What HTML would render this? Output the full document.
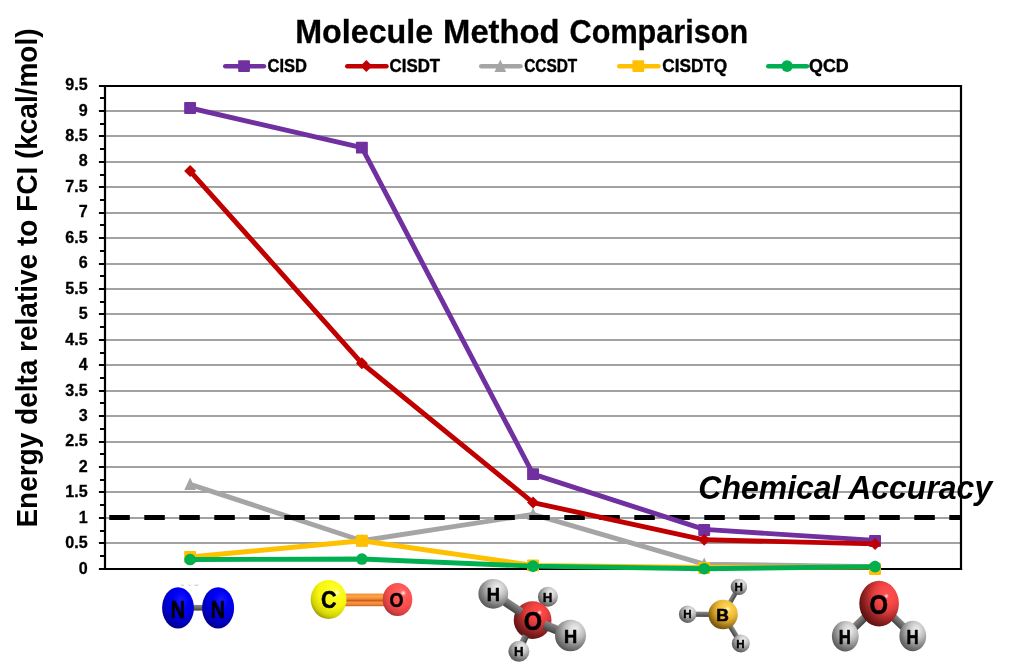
<!DOCTYPE html>
<html lang="en"><head><meta charset="utf-8"><title>Molecule Method Comparison</title>
<style>
html,body{margin:0;padding:0;background:#fff;}
body{width:1014px;height:664px;overflow:hidden;}
svg{display:block;}
text{font-family:"Liberation Sans",sans-serif;font-weight:bold;fill:#000;}
</style></head><body>
<svg width="1014" height="664" viewBox="0 0 1014 664">
<defs>
<radialGradient id="gN" cx="0.6" cy="0.32" r="0.78"><stop offset="0" stop-color="#1a1aff"/><stop offset="0.3" stop-color="#0000f6"/><stop offset="0.5" stop-color="#0000e2"/><stop offset="0.75" stop-color="#0000b0"/><stop offset="0.9" stop-color="#000088"/><stop offset="1" stop-color="#00006c"/></radialGradient>
<radialGradient id="gC" cx="0.64" cy="0.3" r="0.78"><stop offset="0" stop-color="#ffff40"/><stop offset="0.3" stop-color="#fbfb18"/><stop offset="0.55" stop-color="#f5f510"/><stop offset="0.8" stop-color="#d4d408"/><stop offset="0.92" stop-color="#aaaa04"/><stop offset="1" stop-color="#8c8c00"/></radialGradient>
<radialGradient id="gO" cx="0.64" cy="0.3" r="0.78"><stop offset="0" stop-color="#ff5050"/><stop offset="0.22" stop-color="#f84646"/><stop offset="0.42" stop-color="#dc3a3a"/><stop offset="0.6" stop-color="#aa2929"/><stop offset="0.76" stop-color="#7e1d1d"/><stop offset="0.9" stop-color="#621414"/><stop offset="1" stop-color="#500f0f"/></radialGradient>
<radialGradient id="gO2" cx="0.64" cy="0.3" r="0.78"><stop offset="0" stop-color="#ff6a6a"/><stop offset="0.3" stop-color="#ff5656"/><stop offset="0.55" stop-color="#f84e4e"/><stop offset="0.8" stop-color="#d84040"/><stop offset="0.92" stop-color="#b43434"/><stop offset="1" stop-color="#9a2c2c"/></radialGradient>
<radialGradient id="gH" cx="0.64" cy="0.3" r="0.78"><stop offset="0" stop-color="#f0f0f0"/><stop offset="0.2" stop-color="#dadada"/><stop offset="0.4" stop-color="#bebebe"/><stop offset="0.58" stop-color="#9a9a9a"/><stop offset="0.75" stop-color="#787878"/><stop offset="0.9" stop-color="#5e5e5e"/><stop offset="1" stop-color="#4e4e4e"/></radialGradient>
<radialGradient id="gB" cx="0.64" cy="0.3" r="0.78"><stop offset="0" stop-color="#ffe060"/><stop offset="0.25" stop-color="#f8c844"/><stop offset="0.45" stop-color="#eab636"/><stop offset="0.65" stop-color="#c09024"/><stop offset="0.82" stop-color="#8c6812"/><stop offset="1" stop-color="#644a0a"/></radialGradient>
<radialGradient id="gO3" cx="0.7" cy="0.32" r="0.8"><stop offset="0" stop-color="#ff5252"/><stop offset="0.25" stop-color="#fa4848"/><stop offset="0.42" stop-color="#e43e3e"/><stop offset="0.58" stop-color="#b82e2e"/><stop offset="0.74" stop-color="#8a2020"/><stop offset="0.88" stop-color="#681515"/><stop offset="1" stop-color="#521010"/></radialGradient>
<radialGradient id="gSpec" cx="0.5" cy="0.5" r="0.5"><stop offset="0" stop-color="#ffffff" stop-opacity="1"/><stop offset="0.4" stop-color="#ffffff" stop-opacity="0.6"/><stop offset="1" stop-color="#ffffff" stop-opacity="0"/></radialGradient>
<linearGradient id="gBond" x1="0" y1="0" x2="0" y2="1"><stop offset="0" stop-color="#8c8c8c"/><stop offset="0.3" stop-color="#767676"/><stop offset="0.7" stop-color="#5a5a5a"/><stop offset="1" stop-color="#404040"/></linearGradient>
<linearGradient id="gCO" x1="0" y1="0" x2="0" y2="1"><stop offset="0" stop-color="#ee8430"/><stop offset="0.2" stop-color="#ffa84c"/><stop offset="0.42" stop-color="#f08a34"/><stop offset="0.56" stop-color="#c45c1a"/><stop offset="0.68" stop-color="#f89444"/><stop offset="0.85" stop-color="#f08838"/><stop offset="1" stop-color="#c45c1c"/></linearGradient>
</defs>
<rect width="1014" height="664" fill="#fff"/>
<text y="42.6" font-size="32.6" stroke="#000" stroke-width="0.3"><tspan x="295.2" textLength="138" lengthAdjust="spacingAndGlyphs">Molecule</tspan> <tspan x="443.1" textLength="116.5" lengthAdjust="spacingAndGlyphs">Method</tspan> <tspan x="569.6" textLength="178.5" lengthAdjust="spacingAndGlyphs">Comparison</tspan></text>
<line x1="225.3" y1="66.3" x2="263.9" y2="66.3" stroke="#7030A0" stroke-width="4.6" stroke-linecap="round"/>
<rect x="238.15" y="60.20" width="11.8" height="11.8" rx="0.9" fill="#7030A0"/>
<text x="267.6" y="72.0" font-size="19.2" stroke="#000" stroke-width="0.45" textLength="39.4" lengthAdjust="spacingAndGlyphs">CISD</text>
<line x1="347.3" y1="66.3" x2="386.4" y2="66.3" stroke="#C00000" stroke-width="4.6" stroke-linecap="round"/>
<path d="M360.30 66.10L366.30 60.10L372.30 66.10L366.30 72.10Z" fill="#C00000"/>
<text x="389.6" y="72.0" font-size="19.2" stroke="#000" stroke-width="0.45" textLength="50.5" lengthAdjust="spacingAndGlyphs">CISDT</text>
<line x1="481.3" y1="66.3" x2="520.4" y2="66.3" stroke="#A5A5A5" stroke-width="4.6" stroke-linecap="round"/>
<path d="M494.50 71.90L500.30 59.40L506.10 71.90Z" fill="#A5A5A5"/>
<text x="524.2" y="72.0" font-size="19.2" stroke="#000" stroke-width="0.45" textLength="53.1" lengthAdjust="spacingAndGlyphs">CCSDT</text>
<line x1="619.3" y1="66.3" x2="658.4" y2="66.3" stroke="#FFC000" stroke-width="4.6" stroke-linecap="round"/>
<rect x="632.40" y="60.20" width="11.8" height="11.8" rx="0.9" fill="#FFC000"/>
<text x="662.3" y="72.0" font-size="19.2" stroke="#000" stroke-width="0.45" textLength="64.9" lengthAdjust="spacingAndGlyphs">CISDTQ</text>
<line x1="768.3" y1="66.3" x2="806.9" y2="66.3" stroke="#00B050" stroke-width="4.6" stroke-linecap="round"/>
<circle cx="787.05" cy="66.10" r="5.8" fill="#00B050"/>
<text x="809.0" y="72.0" font-size="19.2" stroke="#000" stroke-width="0.45" textLength="39.7" lengthAdjust="spacingAndGlyphs">QCD</text>
<line x1="105.0" y1="543.00" x2="961.0" y2="543.00" stroke="#a2a2a2" stroke-width="2"/>
<line x1="105.0" y1="518.00" x2="961.0" y2="518.00" stroke="#a2a2a2" stroke-width="2"/>
<line x1="105.0" y1="492.00" x2="961.0" y2="492.00" stroke="#a2a2a2" stroke-width="2"/>
<line x1="105.0" y1="467.00" x2="961.0" y2="467.00" stroke="#a2a2a2" stroke-width="2"/>
<line x1="105.0" y1="442.00" x2="961.0" y2="442.00" stroke="#a2a2a2" stroke-width="2"/>
<line x1="105.0" y1="416.00" x2="961.0" y2="416.00" stroke="#a2a2a2" stroke-width="2"/>
<line x1="105.0" y1="391.00" x2="961.0" y2="391.00" stroke="#a2a2a2" stroke-width="2"/>
<line x1="105.0" y1="365.00" x2="961.0" y2="365.00" stroke="#a2a2a2" stroke-width="2"/>
<line x1="105.0" y1="340.00" x2="961.0" y2="340.00" stroke="#a2a2a2" stroke-width="2"/>
<line x1="105.0" y1="314.00" x2="961.0" y2="314.00" stroke="#a2a2a2" stroke-width="2"/>
<line x1="105.0" y1="289.00" x2="961.0" y2="289.00" stroke="#a2a2a2" stroke-width="2"/>
<line x1="105.0" y1="264.00" x2="961.0" y2="264.00" stroke="#a2a2a2" stroke-width="2"/>
<line x1="105.0" y1="238.00" x2="961.0" y2="238.00" stroke="#a2a2a2" stroke-width="2"/>
<line x1="105.0" y1="213.00" x2="961.0" y2="213.00" stroke="#a2a2a2" stroke-width="2"/>
<line x1="105.0" y1="187.00" x2="961.0" y2="187.00" stroke="#a2a2a2" stroke-width="2"/>
<line x1="105.0" y1="162.00" x2="961.0" y2="162.00" stroke="#a2a2a2" stroke-width="2"/>
<line x1="105.0" y1="136.00" x2="961.0" y2="136.00" stroke="#a2a2a2" stroke-width="2"/>
<line x1="105.0" y1="111.00" x2="961.0" y2="111.00" stroke="#a2a2a2" stroke-width="2"/>
<line x1="98.9" y1="569.00" x2="105.0" y2="569.00" stroke="#000" stroke-width="2"/>
<line x1="98.9" y1="543.00" x2="105.0" y2="543.00" stroke="#000" stroke-width="2"/>
<line x1="98.9" y1="518.00" x2="105.0" y2="518.00" stroke="#000" stroke-width="2"/>
<line x1="98.9" y1="492.00" x2="105.0" y2="492.00" stroke="#000" stroke-width="2"/>
<line x1="98.9" y1="467.00" x2="105.0" y2="467.00" stroke="#000" stroke-width="2"/>
<line x1="98.9" y1="442.00" x2="105.0" y2="442.00" stroke="#000" stroke-width="2"/>
<line x1="98.9" y1="416.00" x2="105.0" y2="416.00" stroke="#000" stroke-width="2"/>
<line x1="98.9" y1="391.00" x2="105.0" y2="391.00" stroke="#000" stroke-width="2"/>
<line x1="98.9" y1="365.00" x2="105.0" y2="365.00" stroke="#000" stroke-width="2"/>
<line x1="98.9" y1="340.00" x2="105.0" y2="340.00" stroke="#000" stroke-width="2"/>
<line x1="98.9" y1="314.00" x2="105.0" y2="314.00" stroke="#000" stroke-width="2"/>
<line x1="98.9" y1="289.00" x2="105.0" y2="289.00" stroke="#000" stroke-width="2"/>
<line x1="98.9" y1="264.00" x2="105.0" y2="264.00" stroke="#000" stroke-width="2"/>
<line x1="98.9" y1="238.00" x2="105.0" y2="238.00" stroke="#000" stroke-width="2"/>
<line x1="98.9" y1="213.00" x2="105.0" y2="213.00" stroke="#000" stroke-width="2"/>
<line x1="98.9" y1="187.00" x2="105.0" y2="187.00" stroke="#000" stroke-width="2"/>
<line x1="98.9" y1="162.00" x2="105.0" y2="162.00" stroke="#000" stroke-width="2"/>
<line x1="98.9" y1="136.00" x2="105.0" y2="136.00" stroke="#000" stroke-width="2"/>
<line x1="98.9" y1="111.00" x2="105.0" y2="111.00" stroke="#000" stroke-width="2"/>
<line x1="98.9" y1="86.00" x2="105.0" y2="86.00" stroke="#000" stroke-width="2"/>
<line x1="100" y1="556.00" x2="105.0" y2="556.00" stroke="#000" stroke-width="2"/>
<line x1="100" y1="531.00" x2="105.0" y2="531.00" stroke="#000" stroke-width="2"/>
<line x1="100" y1="505.00" x2="105.0" y2="505.00" stroke="#000" stroke-width="2"/>
<line x1="100" y1="480.00" x2="105.0" y2="480.00" stroke="#000" stroke-width="2"/>
<line x1="100" y1="454.00" x2="105.0" y2="454.00" stroke="#000" stroke-width="2"/>
<line x1="100" y1="429.00" x2="105.0" y2="429.00" stroke="#000" stroke-width="2"/>
<line x1="100" y1="403.00" x2="105.0" y2="403.00" stroke="#000" stroke-width="2"/>
<line x1="100" y1="378.00" x2="105.0" y2="378.00" stroke="#000" stroke-width="2"/>
<line x1="100" y1="353.00" x2="105.0" y2="353.00" stroke="#000" stroke-width="2"/>
<line x1="100" y1="327.00" x2="105.0" y2="327.00" stroke="#000" stroke-width="2"/>
<line x1="100" y1="302.00" x2="105.0" y2="302.00" stroke="#000" stroke-width="2"/>
<line x1="100" y1="276.00" x2="105.0" y2="276.00" stroke="#000" stroke-width="2"/>
<line x1="100" y1="251.00" x2="105.0" y2="251.00" stroke="#000" stroke-width="2"/>
<line x1="100" y1="225.00" x2="105.0" y2="225.00" stroke="#000" stroke-width="2"/>
<line x1="100" y1="200.00" x2="105.0" y2="200.00" stroke="#000" stroke-width="2"/>
<line x1="100" y1="175.00" x2="105.0" y2="175.00" stroke="#000" stroke-width="2"/>
<line x1="100" y1="149.00" x2="105.0" y2="149.00" stroke="#000" stroke-width="2"/>
<line x1="100" y1="124.00" x2="105.0" y2="124.00" stroke="#000" stroke-width="2"/>
<line x1="100" y1="98.00" x2="105.0" y2="98.00" stroke="#000" stroke-width="2"/>
<text transform="translate(87.7,573.75) scale(1.0,1)" font-size="16.1" stroke="#000" stroke-width="0.3" text-anchor="end">0</text>
<text transform="translate(87.7,548.29) scale(1.0,1)" font-size="16.1" stroke="#000" stroke-width="0.3" text-anchor="end">0.5</text>
<text transform="translate(87.7,522.84) scale(1.0,1)" font-size="16.1" stroke="#000" stroke-width="0.3" text-anchor="end">1</text>
<text transform="translate(87.7,497.38) scale(1.0,1)" font-size="16.1" stroke="#000" stroke-width="0.3" text-anchor="end">1.5</text>
<text transform="translate(87.7,471.93) scale(1.0,1)" font-size="16.1" stroke="#000" stroke-width="0.3" text-anchor="end">2</text>
<text transform="translate(87.7,446.47) scale(1.0,1)" font-size="16.1" stroke="#000" stroke-width="0.3" text-anchor="end">2.5</text>
<text transform="translate(87.7,421.02) scale(1.0,1)" font-size="16.1" stroke="#000" stroke-width="0.3" text-anchor="end">3</text>
<text transform="translate(87.7,395.56) scale(1.0,1)" font-size="16.1" stroke="#000" stroke-width="0.3" text-anchor="end">3.5</text>
<text transform="translate(87.7,370.11) scale(1.0,1)" font-size="16.1" stroke="#000" stroke-width="0.3" text-anchor="end">4</text>
<text transform="translate(87.7,344.65) scale(1.0,1)" font-size="16.1" stroke="#000" stroke-width="0.3" text-anchor="end">4.5</text>
<text transform="translate(87.7,319.20) scale(1.0,1)" font-size="16.1" stroke="#000" stroke-width="0.3" text-anchor="end">5</text>
<text transform="translate(87.7,293.74) scale(1.0,1)" font-size="16.1" stroke="#000" stroke-width="0.3" text-anchor="end">5.5</text>
<text transform="translate(87.7,268.29) scale(1.0,1)" font-size="16.1" stroke="#000" stroke-width="0.3" text-anchor="end">6</text>
<text transform="translate(87.7,242.83) scale(1.0,1)" font-size="16.1" stroke="#000" stroke-width="0.3" text-anchor="end">6.5</text>
<text transform="translate(87.7,217.38) scale(1.0,1)" font-size="16.1" stroke="#000" stroke-width="0.3" text-anchor="end">7</text>
<text transform="translate(87.7,191.92) scale(1.0,1)" font-size="16.1" stroke="#000" stroke-width="0.3" text-anchor="end">7.5</text>
<text transform="translate(87.7,166.47) scale(1.0,1)" font-size="16.1" stroke="#000" stroke-width="0.3" text-anchor="end">8</text>
<text transform="translate(87.7,141.01) scale(1.0,1)" font-size="16.1" stroke="#000" stroke-width="0.3" text-anchor="end">8.5</text>
<text transform="translate(87.7,115.56) scale(1.0,1)" font-size="16.1" stroke="#000" stroke-width="0.3" text-anchor="end">9</text>
<text transform="translate(87.7,90.10) scale(1.0,1)" font-size="16.1" stroke="#000" stroke-width="0.3" text-anchor="end">9.5</text>
<polyline points="190.10,484.30 361.90,540.74 533.05,514.30 704.20,564.13 875.05,566.67" fill="none" stroke="#A5A5A5" stroke-width="4.9" stroke-linejoin="round" stroke-linecap="round"/>
<path d="M184.30 490.10L190.10 477.60L195.90 490.10Z" fill="#A5A5A5"/>
<path d="M356.10 546.54L361.90 534.04L367.70 546.54Z" fill="#A5A5A5"/>
<path d="M527.25 520.10L533.05 507.60L538.85 520.10Z" fill="#A5A5A5"/>
<path d="M698.40 569.93L704.20 557.43L710.00 569.93Z" fill="#A5A5A5"/>
<path d="M869.25 572.47L875.05 559.97L880.85 572.47Z" fill="#A5A5A5"/>
<line x1="109.3" y1="517.5" x2="961.0" y2="517.5" stroke="#000" stroke-width="5" stroke-dasharray="20.5 14.5"/>
<path d="M105.0 569.0V86.00H961.0V569.0" fill="none" stroke="#000" stroke-width="2.2" stroke-linecap="square"/>
<line x1="103.9" y1="569.0" x2="962.1" y2="569.0" stroke="#000" stroke-width="2"/>
<polyline points="190.10,108.01 361.90,147.67 533.05,474.13 704.20,529.40 875.05,540.33" fill="none" stroke="#7030A0" stroke-width="4.9" stroke-linejoin="round" stroke-linecap="round"/>
<rect x="184.15" y="102.06" width="11.9" height="11.9" rx="0.9" fill="#7030A0"/>
<rect x="355.95" y="141.72" width="11.9" height="11.9" rx="0.9" fill="#7030A0"/>
<rect x="527.10" y="468.18" width="11.9" height="11.9" rx="0.9" fill="#7030A0"/>
<rect x="698.25" y="524.10" width="11.9" height="11.9" rx="0.9" fill="#7030A0"/>
<rect x="869.10" y="535.08" width="11.9" height="11.9" rx="0.9" fill="#7030A0"/>
<polyline points="190.10,171.06 361.90,363.27 533.05,502.60 704.20,539.77 875.05,543.89" fill="none" stroke="#C00000" stroke-width="4.9" stroke-linejoin="round" stroke-linecap="round"/>
<path d="M184.10 171.06L190.10 165.06L196.10 171.06L190.10 177.06Z" fill="#C00000"/>
<path d="M355.90 363.27L361.90 357.27L367.90 363.27L361.90 369.27Z" fill="#C00000"/>
<path d="M527.05 502.60L533.05 496.60L539.05 502.60L533.05 508.60Z" fill="#C00000"/>
<path d="M698.20 539.77L704.20 533.77L710.20 539.77L704.20 545.77Z" fill="#C00000"/>
<path d="M869.05 543.89L875.05 537.89L881.05 543.89L875.05 549.89Z" fill="#C00000"/>
<polyline points="190.10,557.01 361.90,540.74 533.05,565.40 704.20,567.44 875.05,567.08" fill="none" stroke="#FFC000" stroke-width="4.9" stroke-linejoin="round" stroke-linecap="round"/>
<rect x="184.15" y="551.06" width="11.9" height="11.9" rx="0.9" fill="#FFC000"/>
<rect x="355.95" y="534.79" width="11.9" height="11.9" rx="0.9" fill="#FFC000"/>
<rect x="527.10" y="559.45" width="11.9" height="11.9" rx="0.9" fill="#FFC000"/>
<rect x="698.25" y="561.99" width="11.9" height="11.9" rx="0.9" fill="#FFC000"/>
<rect x="869.10" y="563.03" width="11.9" height="11.9" rx="0.9" fill="#FFC000"/>
<polyline points="190.10,559.56 361.90,559.05 533.05,566.17 704.20,568.71 875.05,566.67" fill="none" stroke="#00B050" stroke-width="4.9" stroke-linejoin="round" stroke-linecap="round"/>
<circle cx="190.10" cy="559.56" r="5.8" fill="#00B050"/>
<circle cx="361.90" cy="559.05" r="5.8" fill="#00B050"/>
<circle cx="533.05" cy="566.17" r="5.8" fill="#00B050"/>
<circle cx="704.20" cy="568.71" r="5.8" fill="#00B050"/>
<circle cx="875.05" cy="566.67" r="5.8" fill="#00B050"/>
<text transform="translate(698.3,498.8) scale(1,1.04)" font-size="32" font-style="italic">Chemical Accuracy</text>
<text transform="translate(37.4,527.6) rotate(-90) scale(1,1.04)" font-size="28">Energy delta relative to FCI (kcal/mol)</text>
<line x1="181" y1="585.2" x2="184" y2="585.2" stroke="#808080" stroke-width="0.45"/>
<line x1="188.5" y1="585.2" x2="190.5" y2="585.2" stroke="#808080" stroke-width="0.45"/>
<line x1="194.4" y1="585.2" x2="198.3" y2="585.2" stroke="#808080" stroke-width="0.45"/>
<rect x="190" y="604.9" width="16" height="5.7" fill="url(#gBond)"/>
<ellipse cx="178" cy="607.9" rx="15.9" ry="20.7" fill="url(#gN)"/><text transform="translate(177.80,617.58) scale(0.82,1)" font-size="24" text-anchor="middle" stroke="#000" stroke-width="0.7" stroke-linejoin="round">N</text>
<ellipse cx="218.1" cy="607.9" rx="16" ry="20.7" fill="url(#gN)"/><text transform="translate(217.80,617.58) scale(0.82,1)" font-size="24" text-anchor="middle" stroke="#000" stroke-width="0.7" stroke-linejoin="round">N</text>
<rect x="340" y="593.6" width="48" height="12.6" fill="url(#gCO)"/>
<ellipse cx="328.6" cy="599.4" rx="17.9" ry="19.5" fill="url(#gC)"/><circle cx="337.0" cy="592.6" r="3.2" fill="url(#gSpec)" opacity="0.9"/><text transform="translate(328.90,608.28) scale(0.9,1)" font-size="24" text-anchor="middle" stroke="#000" stroke-width="0.5" stroke-linejoin="round">C</text>
<ellipse cx="397.5" cy="599.5" rx="14.8" ry="16.5" fill="url(#gO2)"/><circle cx="403.3" cy="593.0" r="3.0" fill="url(#gSpec)" opacity="0.85"/><text transform="translate(396.50,606.71) scale(0.92,1)" font-size="19.5" text-anchor="middle" stroke="#000" stroke-width="0.5" stroke-linejoin="round">O</text>
<ellipse cx="547.9" cy="596.8" rx="10" ry="10" fill="url(#gH)"/><text transform="translate(547.60,601.64) scale(1,1)" font-size="13.3" text-anchor="middle" stroke="#000" stroke-width="0.4" stroke-linejoin="round">H</text>
<ellipse cx="532.6" cy="620.1" rx="18.9" ry="18.9" fill="url(#gO)"/><circle cx="539.6" cy="612.6" r="2.6" fill="url(#gSpec)" opacity="0.8"/><text transform="translate(532.90,629.53) scale(0.94,1)" font-size="25" text-anchor="middle" stroke="#000" stroke-width="0.6" stroke-linejoin="round">O</text>
<rect x="0" y="-4.30" width="33.29" height="8.6" fill="url(#gBond)" transform="translate(493.3,593.8) rotate(33.79)"/>
<rect x="0" y="-4.50" width="28.41" height="9.0" fill="url(#gBond)" transform="translate(544.1804992258568,624.8055326669709) rotate(22.11)"/>
<rect x="0" y="-3.30" width="17.08" height="6.6" fill="url(#gBond)" transform="translate(518.9,651.3) rotate(-66.29)"/>
<ellipse cx="493.3" cy="593.8" rx="14.9" ry="14.9" fill="url(#gH)"/><text transform="translate(493.30,601.09) scale(1,1)" font-size="18.3" text-anchor="middle" stroke="#000" stroke-width="0.6" stroke-linejoin="round">H</text>
<ellipse cx="570.5" cy="635.5" rx="15.5" ry="15.8" fill="url(#gH)"/><text transform="translate(570.50,642.89) scale(1,1)" font-size="18.3" text-anchor="middle" stroke="#000" stroke-width="0.6" stroke-linejoin="round">H</text>
<ellipse cx="518.9" cy="651.3" rx="10.5" ry="10.5" fill="url(#gH)"/><text transform="translate(518.90,656.34) scale(1,1)" font-size="13.3" text-anchor="middle" stroke="#000" stroke-width="0.4" stroke-linejoin="round">H</text>
<rect x="0" y="-2.40" width="31.80" height="4.8" fill="url(#gBond)" transform="translate(723.1,614.5) rotate(-60.21)"/>
<rect x="0" y="-2.60" width="35.50" height="5.2" fill="url(#gBond)" transform="translate(687.6,614.2) rotate(0.48)"/>
<rect x="0" y="-2.50" width="33.89" height="5.0" fill="url(#gBond)" transform="translate(723.1,614.5) rotate(58.51)"/>
<ellipse cx="723.1" cy="614.5" rx="14.7" ry="14.7" fill="url(#gB)"/><circle cx="727.8" cy="609.0" r="2.6" fill="url(#gSpec)" opacity="0.8"/><text transform="translate(722.50,620.86) scale(1.04,1)" font-size="16.8" text-anchor="middle" stroke="#000" stroke-width="0.6" stroke-linejoin="round">B</text>
<ellipse cx="738.9" cy="586.9" rx="8.2" ry="8.2" fill="url(#gH)"/><text transform="translate(738.80,591.35) scale(1,1)" font-size="11.6" text-anchor="middle" stroke="#000" stroke-width="0.4" stroke-linejoin="round">H</text>
<ellipse cx="687.6" cy="614.2" rx="8.7" ry="8.7" fill="url(#gH)"/><text transform="translate(687.50,618.35) scale(1,1)" font-size="11.6" text-anchor="middle" stroke="#000" stroke-width="0.4" stroke-linejoin="round">H</text>
<ellipse cx="740.8" cy="643.4" rx="9" ry="9" fill="url(#gH)"/><text transform="translate(740.50,647.55) scale(1,1)" font-size="11.6" text-anchor="middle" stroke="#000" stroke-width="0.4" stroke-linejoin="round">H</text>
<rect x="0" y="-3.90" width="47.03" height="7.8" fill="url(#gBond)" transform="translate(845.3,636.3) rotate(-44.05)"/>
<rect x="0" y="-3.90" width="46.75" height="7.8" fill="url(#gBond)" transform="translate(879.1,603.6) rotate(43.87)"/>
<ellipse cx="879.1" cy="603.6" rx="19.8" ry="22.8" fill="url(#gO3)"/><circle cx="886.4" cy="596.0" r="2.6" fill="url(#gSpec)" opacity="0.8"/><text transform="translate(878.70,614.17) scale(0.85,1)" font-size="28" text-anchor="middle" stroke="#000" stroke-width="0.6" stroke-linejoin="round">O</text>
<ellipse cx="845.3" cy="636.3" rx="13.4" ry="15.3" fill="url(#gH)"/><text transform="translate(844.90,644.23) scale(0.8,1)" font-size="21" text-anchor="middle" stroke="#000" stroke-width="0.6" stroke-linejoin="round">H</text>
<ellipse cx="912.8" cy="636" rx="13.4" ry="15.3" fill="url(#gH)"/><text transform="translate(912.60,643.93) scale(0.8,1)" font-size="21" text-anchor="middle" stroke="#000" stroke-width="0.6" stroke-linejoin="round">H</text>
</svg></body></html>
